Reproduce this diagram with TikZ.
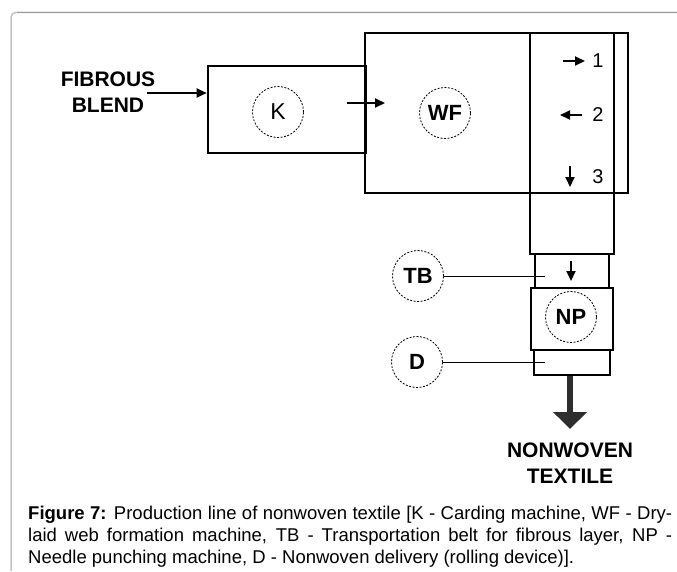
\documentclass[tikz,border=0pt]{standalone}
\usepackage{fontspec}
\setmainfont{Liberation Sans}
\usetikzlibrary{arrows.meta,positioning}

\definecolor{framegray}{HTML}{C4C4C4}
\definecolor{frametop}{HTML}{999999}
\definecolor{outgray}{HTML}{2E2E2E}

\tikzset{
  machine/.style={draw,rectangle,line width=2.6pt,inner sep=0pt},
  unit/.style={draw,circle,line width=0.8pt,dash pattern=on 2pt off 1.5pt,
    minimum size=51pt,inner sep=0pt,font=\fontsize{22}{26}\selectfont\bfseries},
  flow/.style={line width=2pt,-{Triangle[length=10pt,width=9pt]}},
  leader/.style={line width=1pt},
  bigtxt/.style={font=\fontsize{21}{26}\selectfont\bfseries,align=center,inner sep=0pt},
  numlbl/.style={font=\fontsize{20}{22}\selectfont,inner sep=0pt},
  captxt/.style={font=\fontsize{18.5}{22}\selectfont,inner sep=0pt,anchor=base west}
}

\begin{document}
\begin{tikzpicture}[x=1pt,y=-1pt]
      \useasboundingbox (0,0) rectangle (677,571);
      % frame of the figure
      \draw[framegray,line width=1.5pt,rounded corners=5pt] (11,571) -- (11,12.3) -- (677,12.3);
      \draw[frametop,line width=1.5pt] (17,12.3) -- (677,12.3);
      % machines
      \node [machine,minimum width=263pt,minimum height=160pt] (wfbox) at (496.5,113) {};
      \node [machine,minimum width=158pt,minimum height=87pt] (kbox) at (287,109.5) {};
      \node [machine,minimum width=84pt,minimum height=221pt] (colbox) at (572,143.5) {};
      \node [machine,minimum width=74pt,minimum height=34pt] (tbbox) at (572,271) {};
      \node [machine,minimum width=82pt,minimum height=62pt] (npbox) at (572,319) {};
      \node [machine,minimum width=76pt,minimum height=25pt] (dbox) at (572,362.5) {};
      % units
      \node [unit,font=\fontsize{23}{26}\selectfont] (k) at (278,112) {K};
      \node [unit] (wf) at (445,113) {WF};
      \node [unit] (np) at (571,317) {NP};
      \node [unit] (tb) at (418,276) {TB};
      \node [unit] (d) at (417,362) {D};
      \coordinate (tbpt) at (545,276);
      \coordinate (dpt) at (545,362);
      \draw[leader] (tb) -- (tbpt);
      \draw[leader] (d) -- (dpt);
      % input
      \node [bigtxt] (feed) at (108,92) {FIBROUS\\BLEND};
      \coordinate (feedin) at (147,93);
      \draw[flow] (feedin) -- (feedin -| kbox.west);
      \coordinate (kout) at (347,103);
      \coordinate (wfin) at (385,103);
      \draw[flow] (kout) -- (wfin);
      % directions 1, 2, 3
      \node [numlbl] (n1) at (598,61) {1};
      \node [numlbl] (n2) at (598,115) {2};
      \node [numlbl] (n3) at (598,177) {3};
      \coordinate (a1s) at (563,61);
      \coordinate (a1e) at (585,61);
      \coordinate (a2s) at (582,115);
      \coordinate (a2e) at (560,115);
      \coordinate (a3s) at (570,166);
      \coordinate (a3e) at (570,187);
      \draw[flow] (a1s) -- (a1e);
      \draw[flow] (a2s) -- (a2e);
      \draw[flow] (a3s) -- (a3e);
      \coordinate (tbs) at (571,261);
      \coordinate (tbe) at (571,281);
      \draw[flow] (tbs) -- (tbe);
      % output
      \coordinate (tip) at (570,429);
      \draw[outgray,line width=6pt,-{Triangle[length=17pt,width=33pt]}] (dbox.south -| tip) -- (tip);
      \node [bigtxt,below=14pt of tip] (product) {NONWOVEN\\TEXTILE};
      % caption
      \node [captxt] (cap1) at (28,519)
      {\makebox[644pt][s]{\textbf{Figure 7:} Production line of nonwoven textile [K - Carding machine, WF - Dry-}};
      \node [captxt] (cap2) at (28,541)
      {\makebox[644pt][s]{laid web formation machine, TB - Transportation belt for fibrous layer, NP -}};
      \node [captxt] (cap3) at (28,563)
      {Needle punching machine, D - Nonwoven delivery (rolling device)].};
\end{tikzpicture}
\end{document}
